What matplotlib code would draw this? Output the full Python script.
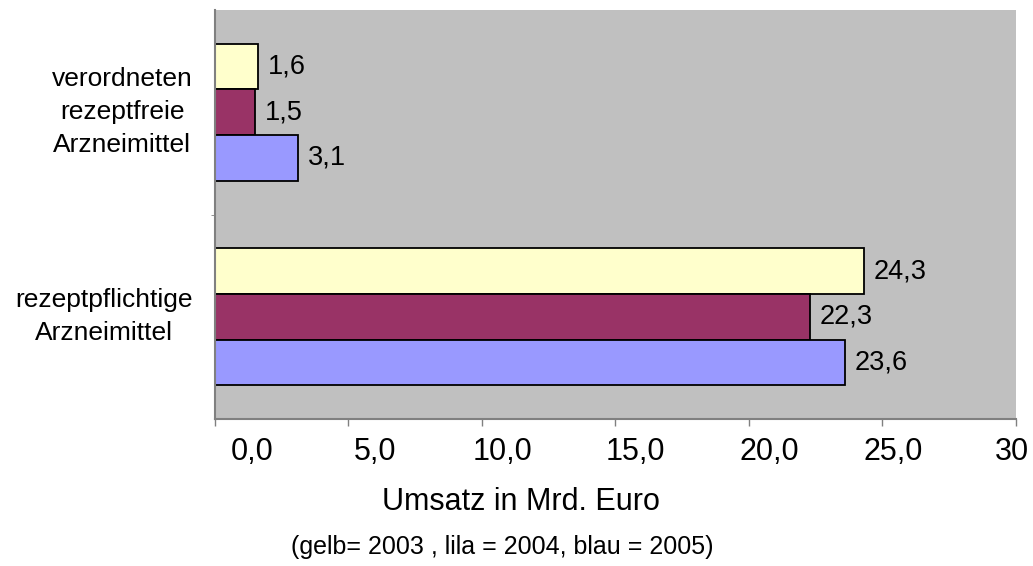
import matplotlib
matplotlib.use('Agg')
import matplotlib.pyplot as plt
import matplotlib.transforms as mtransforms
import numpy as np

# Data (Mrd. Euro)
categories = ['rezeptpflichtige\nArzneimittel', 'verordneten\nrezeptfreie\nArzneimittel']
years = ['2003', '2004', '2005']
values_2003 = [24.3, 1.6]
values_2004 = [22.3, 1.5]
values_2005 = [23.6, 3.1]
x_ticks = [0, 5, 10, 15, 20, 25, 30]
x_tick_labels = ['0,0', '5,0', '10,0', '15,0', '20,0', '25,0', '30']

colors = ['#FFFFCC', '#993366', '#9999FF']  # gelb, lila, blau

plt.rcParams['font.family'] = ['Liberation Sans', 'DejaVu Sans']

fig = plt.figure(figsize=(10.33, 5.66), dpi=100)
ax = fig.add_axes([0.2081, 0.2597, 0.7754, 0.7226])
ax.set_facecolor('#C0C0C0')

y = np.arange(len(categories))
h = 0.223
series = [values_2003, values_2004, values_2005]
offsets = [h, 0, -h]

for vals, off, col in zip(series, offsets, colors):
    bars = ax.barh(y + off, vals, height=h, color=col, edgecolor='black', linewidth=1.3)
    for b, v in zip(bars, vals):
        ax.annotate('{:.1f}'.format(v).replace('.', ','),
                    xy=(b.get_width(), b.get_y() + b.get_height() / 2),
                    xytext=(7, 0), textcoords='offset points',
                    ha='left', va='center', fontsize=19.5)

ax.set_xlim(0, 30)
ax.set_ylim(-0.5, 1.5)

# axis styling like the old office chart
for side in ['top', 'right']:
    ax.spines[side].set_visible(False)
for side in ['left', 'bottom']:
    ax.spines[side].set_color('#808080')
    ax.spines[side].set_linewidth(1.5)

ax.set_xticks(x_ticks)
ax.set_xticklabels(x_tick_labels, fontsize=22)
ax.tick_params(axis='x', direction='out', length=5, width=1, color='#808080', pad=8)
# the office renderer puts the labels a bit right of their ticks
label_shift_px = [37, 27, 21, 20, 20, 11, -4]
for lbl, s in zip(ax.get_xticklabels(), label_shift_px):
    shift = mtransforms.ScaledTranslation(s / 100, 0, fig.dpi_scale_trans)
    lbl.set_transform(lbl.get_transform() + shift)

ax.set_yticks(y)
ax.set_yticklabels(categories, fontsize=19, linespacing=1.45, multialignment='center')
ax.tick_params(axis='y', length=0, pad=16)
up = mtransforms.ScaledTranslation(0, 7 / 100, fig.dpi_scale_trans)
for lbl in ax.get_yticklabels():
    lbl.set_transform(lbl.get_transform() + up)
ax.set_yticks([0.5], minor=True)
ax.tick_params(axis='y', which='minor', length=3, color='#808080')

fig.text(0.504, 0.113, 'Umsatz in Mrd. Euro', ha='center', va='center', fontsize=22)
fig.text(0.486, 0.012, '(gelb= 2003 , lila = 2004, blau = 2005)', ha='center', va='bottom', fontsize=18)

fig.savefig('out.png', dpi=100)
